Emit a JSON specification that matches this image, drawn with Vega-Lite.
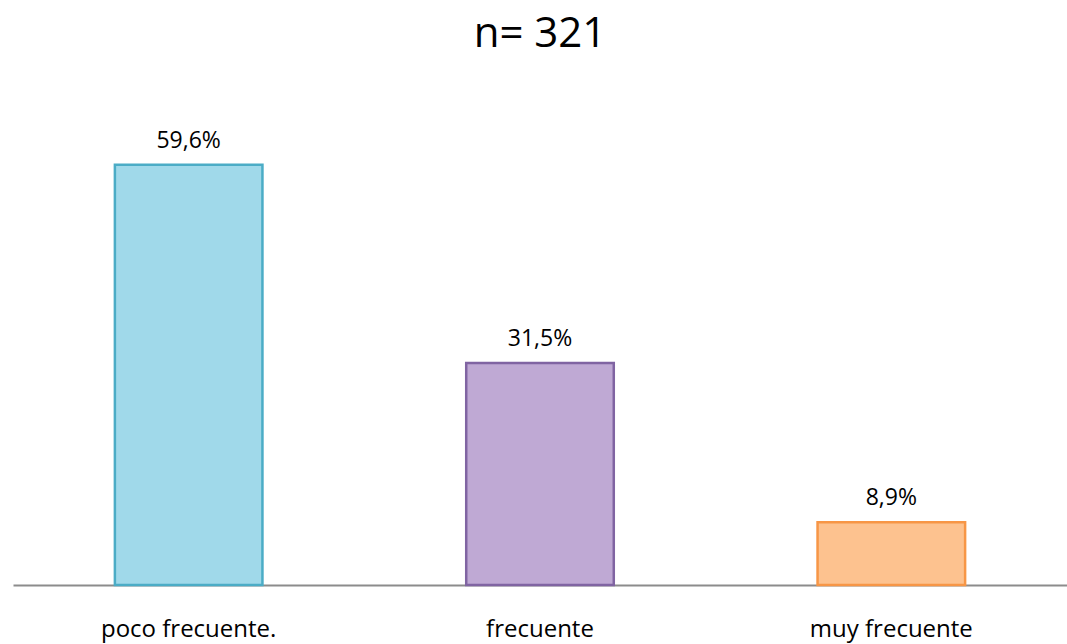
{
  "$schema": "https://vega.github.io/schema/vega-lite/v6.json",
  "autosize": {"type": "none"},
  "width": 1054,
  "height": 505,
  "padding": {"left": 13, "top": 80, "right": 0, "bottom": 59},
  "background": "white",
  "title": {"text": "n= 321", "fontSize": 42, "font": "Open Sans", "fontWeight": "normal", "color": "#000000", "offset": 24, "anchor": "middle"},
  "data": {"values": [
    {"cat": "poco frecuente.", "pct": 59.6, "label": "59,6%"},
    {"cat": "frecuente", "pct": 31.5, "label": "31,5%"},
    {"cat": "muy frecuente", "pct": 8.9, "label": "8,9%"}
  ]},
  "encoding": {
    "x": {"field": "cat", "type": "nominal", "sort": null,
      "scale": {"paddingInner": 0.58, "paddingOuter": 0.29},
      "axis": {"title": null, "labelAngle": 0, "ticks": false, "domainColor": "#8c8c8c", "domainWidth": 2, "labelFont": "Open Sans", "labelFontSize": 24, "labelColor": "#000000", "labelPadding": 32}},
    "y": {"field": "pct", "type": "quantitative", "scale": {"domain": [0, 71.63], "nice": false}, "axis": null}
  },
  "layer": [
    {"mark": {"type": "bar", "strokeWidth": 2.5},
     "encoding": {
       "fill": {"field": "cat", "type": "nominal", "scale": {"domain": ["poco frecuente.", "frecuente", "muy frecuente"], "range": ["#A0D9EA", "#BFA9D4", "#FDC28F"]}, "legend": null},
       "stroke": {"field": "cat", "type": "nominal", "scale": {"domain": ["poco frecuente.", "frecuente", "muy frecuente"], "range": ["#4BACC6", "#8064A2", "#F79646"]}, "legend": null}
     }},
    {"mark": {"type": "text", "baseline": "bottom", "dy": -12, "font": "Open Sans", "fontSize": 23, "color": "#000000"},
     "encoding": {"text": {"field": "label"}}}
  ],
  "config": {"view": {"stroke": null}}
}
